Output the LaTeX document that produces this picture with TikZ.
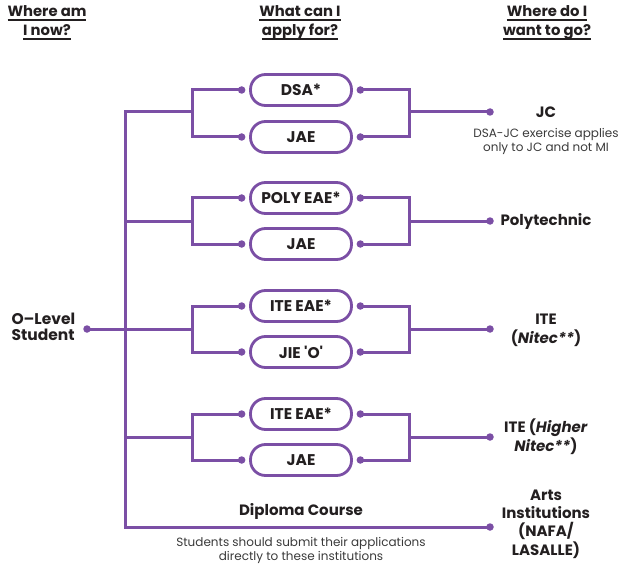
\documentclass[tikz,border=0pt]{standalone}
\usepackage{fontspec}
\setmainfont{Poppins}
\usetikzlibrary{positioning}
\definecolor{pathpurple}{HTML}{7B4FA5}
\definecolor{inkdark}{HTML}{231F20}
\definecolor{notegray}{HTML}{3A3A3A}
\newcommand{\hdul}[1]{\setbox0=\hbox{#1}\rlap{\rule[-4.5pt]{\wd0}{2pt}}\box0}

\begin{document}
\begin{tikzpicture}[x=1pt, y=-1pt,
    pill/.style={rectangle, rounded corners=15pt, draw=pathpurple, line width=2.8pt, minimum width=101pt, minimum height=31pt, font=\fontsize{15.5}{17}\selectfont\bfseries, text=inkdark},
    dot/.style={circle, fill=pathpurple, inner sep=0pt, minimum size=7.5pt},
    link/.style={draw=pathpurple, line width=3pt},
    heading/.style={font=\fontsize{14.8}{19}\selectfont\bfseries, align=center, text=inkdark},
    dest/.style={font=\fontsize{15}{19}\selectfont\bfseries, align=center, text=inkdark},
    note/.style={font=\fontsize{12}{14}\selectfont, align=center, text=notegray}
]
\useasboundingbox (0,0) rectangle (626,572);

% Column headings
\node[heading] (hnow) at (47,23) {\hdul{Where am}\\\hdul{I now?}};
\node[heading] (happly) at (300,23) {\hdul{What can I}\\\hdul{apply for?}};
\node[heading] (hgo) at (547,23) {\hdul{Where do I}\\\hdul{want to go?}};

% Start
\node[heading, align=left, font=\fontsize{15.5}{15.5}\selectfont\bfseries, anchor=west] (student) at (8,327) {O--Level\\Student};
\node[dot] (studD) at (87,329) {};

% Group 1: JC
\node[pill] (dsa) at (301,90) {DSA*};
\node[pill] (jae1) at (301,137) {JAE};
\node[dot, left=3.5pt of dsa] (dsaL) {};
\node[dot, right=3.5pt of dsa] (dsaR) {};
\node[dot, left=3.5pt of jae1] (jae1L) {};
\node[dot, right=3.5pt of jae1] (jae1R) {};
\coordinate (g1L) at (192,112);
\coordinate (g1R) at (409,112);
\node[dot] (jcD) at (490,112) {};
\node[dest] (jc) at (546,112) {JC};
\node[note] (jcnote) at (546,141) {DSA-JC exercise applies\\only to JC and not MI};

% Group 2: Polytechnic
\node[pill] (polyeae) at (301,198) {POLY EAE*};
\node[pill] (jae2) at (301,244) {JAE};
\node[dot, left=3.5pt of polyeae] (polyeaeL) {};
\node[dot, right=3.5pt of polyeae] (polyeaeR) {};
\node[dot, left=3.5pt of jae2] (jae2L) {};
\node[dot, right=3.5pt of jae2] (jae2R) {};
\coordinate (g2T) at (125,221);
\coordinate (g2L) at (192,221);
\coordinate (g2R) at (409,221);
\node[dot] (polyD) at (490,221) {};
\node[dest] (poly) at (546,221) {Polytechnic};

% Group 3: ITE (Nitec)
\node[pill] (iteeae1) at (301,306) {ITE EAE*};
\node[pill] (jie) at (301,352) {JIE \textquotesingle O\textquotesingle};
\node[dot, left=3.5pt of iteeae1] (iteeae1L) {};
\node[dot, right=3.5pt of iteeae1] (iteeae1R) {};
\node[dot, left=3.5pt of jie] (jieL) {};
\node[dot, right=3.5pt of jie] (jieR) {};
\coordinate (g3T) at (125,329);
\coordinate (g3L) at (192,329);
\coordinate (g3R) at (409,329);
\node[dot] (nitecD) at (490,329) {};
\node[dest] (nitec) at (546,330) {ITE\\(\textit{Nitec**})};

% Group 4: ITE (Higher Nitec)
\node[pill] (iteeae2) at (301,414) {ITE EAE*};
\node[pill] (jae4) at (301,460) {JAE};
\node[dot, left=3.5pt of iteeae2] (iteeae2L) {};
\node[dot, right=3.5pt of iteeae2] (iteeae2R) {};
\node[dot, left=3.5pt of jae4] (jae4L) {};
\node[dot, right=3.5pt of jae4] (jae4R) {};
\coordinate (g4T) at (125,437);
\coordinate (g4L) at (192,437);
\coordinate (g4R) at (409,437);
\node[dot] (hnitecD) at (490,437) {};
\node[dest] (hnitec) at (546,437) {ITE (\textit{Higher}\\\textit{Nitec**})};

% Diploma course
\coordinate (trunkB) at (125,527);
\node[dot] (artsD) at (490,527) {};
\node[dest, font=\fontsize{15}{18.3}\selectfont\bfseries] (arts) at (546,524) {Arts\\Institutions\\(NAFA/\\LASALLE)};
\node[dest] (diploma) at (301,511) {Diploma Course};
\node[note] (diplnote) at (301,550) {Students should submit their applications\\directly to these institutions};

% Trunk
\draw[link] (g1L) -| (trunkB) -- (artsD.center);
\draw[link] (studD.center) -- (g3T);
\draw[link] (g2T) -- (g2L);
\draw[link] (g3T) -- (g3L);
\draw[link] (g4T) -- (g4L);

% Branches
\draw[link] (dsaL.center) -| (g1L) |- (jae1L.center);
\draw[link] (dsaR.center) -| (g1R) |- (jae1R.center);
\draw[link] (g1R) -- (jcD.center);
\draw[link] (polyeaeL.center) -| (g2L) |- (jae2L.center);
\draw[link] (polyeaeR.center) -| (g2R) |- (jae2R.center);
\draw[link] (g2R) -- (polyD.center);
\draw[link] (iteeae1L.center) -| (g3L) |- (jieL.center);
\draw[link] (iteeae1R.center) -| (g3R) |- (jieR.center);
\draw[link] (g3R) -- (nitecD.center);
\draw[link] (iteeae2L.center) -| (g4L) |- (jae4L.center);
\draw[link] (iteeae2R.center) -| (g4R) |- (jae4R.center);
\draw[link] (g4R) -- (hnitecD.center);

\end{tikzpicture}
\end{document}
